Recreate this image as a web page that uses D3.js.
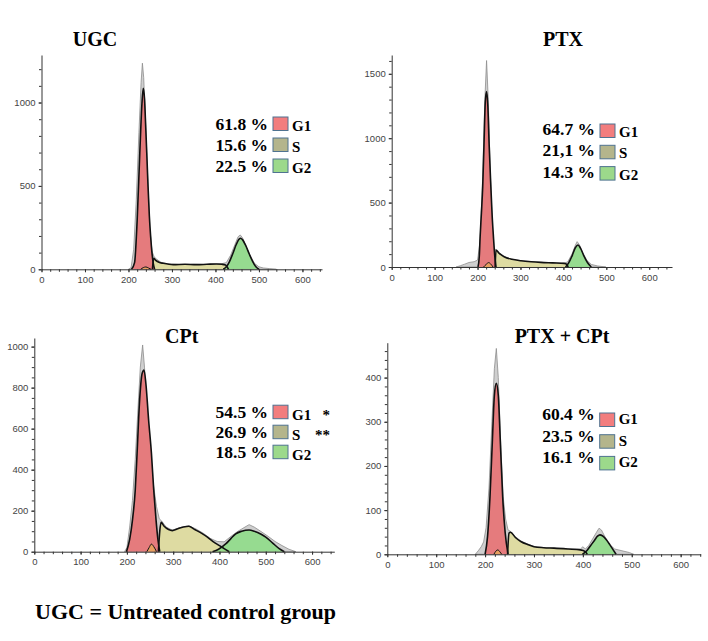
<!DOCTYPE html>
<html>
<head>
<meta charset="utf-8">
<script src="https://cdn.jsdelivr.net/npm/d3@7"></script>
<style>
  body { margin: 0; background: #fff; }
  .tick text { font-family: "Liberation Sans", Arial, sans-serif; font-size: 9.5px; fill: #444; }
  .axis path, .axis line { stroke: #333; }
  .serif { font-family: "Liberation Serif", "Times New Roman", serif; font-weight: bold; fill: #000; }
</style>
</head>
<body>
<svg width="708" height="641"></svg>
<script>
// DNA-Gehalt (Kanal) vs. Anzahl Zellen

// UGC
const ugcRaw = [[200,0],[206,10],[212,120],[218,420],[224,820],[229,1120],[232,1236],[235,1150],[239,900],[244,560],[249,250],[254,110],[259,75],[265,60],[275,42],[290,32],[320,28],[350,30],[380,28],[400,32],[415,34],[425,40],[435,85],[445,150],[452,195],[457,206],[462,190],[470,140],[480,80],[490,35],[500,15],[510,8],[525,4],[540,0]];
const ugcG1 = [[207,0],[214,40],[220,296],[226,696],[231,996],[234,1086],[237,1020],[239,896],[242,700],[245,496],[248,320],[251,196],[254,100],[257,36],[260,0]];
const ugcS = [[255,0],[258,66],[262,55],[270,42],[280,36],[303,28],[330,30],[356,28],[380,30],[402,32],[415,30],[423,26],[430,0]];
const ugcG2 = [[418,0],[425,15],[432,45],[440,95],[448,150],[455,182],[458,186],[462,178],[470,140],[478,90],[486,45],[493,15],[500,0]];
const ugcBump = [[228,0],[234,10],[240,14],[246,8],[252,0]];

// PTX
const ptxRaw = [[150,0],[160,10],[170,22],[180,35],[192,41],[200,54],[206,200],[212,700],[217,1300],[221,1603],[225,1300],[229,800],[234,350],[238,150],[242,135],[248,110],[262,80],[280,60],[301,49],[330,40],[347,36],[380,32],[402,30],[410,40],[420,100],[428,170],[432,197],[437,175],[445,110],[455,50],[465,20],[480,8],[499,0]];
const ptxG1 = [[201,0],[204,80],[206,236],[209,420],[212,624],[215,950],[218,1280],[221,1363],[224,1250],[227,950],[231,624],[234,400],[237,236],[240,90],[243,0]];
const ptxS = [[241,0],[243,132],[250,108],[262,80],[280,60],[301,49],[325,41],[347,36],[375,32],[402,28],[408,20],[411,0]];
const ptxG2 = [[405,0],[412,30],[420,85],[428,150],[434,171],[440,145],[448,85],[456,35],[465,0]];
const ptxBump = [[214,0],[220,20],[226,34],[231,22],[236,0]];

// CPt
const cptRaw = [[195,0],[200,20],[206,120],[212,250],[218,450],[224,700],[229,900],[234,1008],[238,900],[243,700],[248,520],[253,400],[258,317],[264,220],[270,160],[275,150],[285,120],[298,105],[315,118],[334,126],[350,110],[365,90],[380,65],[395,50],[410,48],[425,75],[440,100],[455,120],[464,132],[475,120],[490,98],[505,75],[520,50],[535,30],[550,12],[565,0]];
const cptG1 = [[199,0],[206,60],[212,154],[218,300],[222,480],[227,720],[233,870],[237,886],[241,820],[247,640],[253,480],[258,300],[263,154],[267,60],[271,0]];
const cptS = [[268,0],[271,100],[274,143],[280,125],[290,108],[298,103],[310,112],[322,120],[334,124],[345,110],[360,92],[374,71],[387,48],[399,31],[410,15],[421,0]];
const cptG2 = [[385,0],[398,12],[414,39],[425,65],[435,87],[448,100],[464,106],[475,100],[490,85],[500,71],[515,42],[529,15],[540,0]];
const cptBump = [[243,0],[248,20],[253,37],[258,25],[264,0]];

// PTX + CPt
const pcRaw = [[180,0],[186,8],[192,17],[197,28],[202,60],[208,150],[214,300],[219,420],[223,466],[227,400],[232,250],[237,130],[242,80],[247,55],[252,52],[260,42],[273,30],[290,22],[300,18],[320,15],[341,14],[370,12],[395,12],[400,17],[405,12],[412,20],[420,35],[428,50],[433,59],[438,55],[445,40],[455,22],[465,12],[480,8],[495,4],[504,0]];
const pcG1 = [[200,0],[205,40],[210,130],[215,260],[219,360],[223,387],[227,360],[231,260],[236,130],[241,50],[247,0]];
const pcS = [[246,0],[249,48],[252,50],[262,38],[273,29],[290,21],[300,17],[320,15],[341,14],[370,12],[395,10],[405,6],[409,0]];
const pcG2 = [[399,0],[408,8],[416,20],[424,32],[430,41],[435,44],[440,42],[448,33],[455,22],[462,10],[468,0]];
const pcBump = [[218,0],[222,7],[226,10],[230,6],[234,0]];

// Prozente je Phase (G1, S, G2)
const phases = ["G1", "S", "G2"];
const ugcPct = ["61.8 %", "15.6 %", "22.5 %"];
const ptxPct = ["64.7 %", "21,1 %", "14.3 %"];
const cptPct = ["54.5 %", "26.9 %", "18.5 %"];
const pcPct = ["60.4 %", "23.5 %", "16.1 %"];
const cptStars = ["*", "**", ""];

const titles = ["UGC", "PTX", "CPt", "PTX + CPt"];

const svg = d3.select("svg");

// Position der Panels (Pixel)
const panels = [
  { title: titles[0], raw: ugcRaw, g1: ugcG1, s: ugcS, g2: ugcG2, bump: ugcBump, pct: ugcPct, stars: null,
    x0: 41.5, x1: 322, xMax: 645, y0: 269.3, yTop: 55, yMax: 1285, yMajor: 500, yMinor: 100,
    tx: 95, ty: 45.5, lx: 268, ly: 130, ldy: 21, swDy: -13, labDy: 1 },
  { title: titles[1], raw: ptxRaw, g1: ptxG1, s: ptxS, g2: ptxG2, bump: ptxBump, pct: ptxPct, stars: null,
    x0: 391.7, x1: 672, xMax: 653, y0: 267, yTop: 55, yMax: 1646, yMajor: 500, yMinor: 100,
    tx: 563, ty: 46, lx: 595, ly: 135, ldy: 21.3, swDy: -11, labDy: 2 },
  { title: titles[2], raw: cptRaw, g1: cptG1, s: cptS, g2: cptG2, bump: cptBump, pct: cptPct, stars: cptStars,
    x0: 34.3, x1: 334.3, xMax: 648, y0: 551.7, yTop: 338, yMax: 1042, yMajor: 200, yMinor: 50,
    tx: 181.7, ty: 343.3, lx: 268, ly: 417.7, ldy: 20, swDy: -12.5, labDy: 2.3 },
  { title: titles[3], raw: pcRaw, g1: pcG1, s: pcS, g2: pcG2, bump: pcBump, pct: pcPct, stars: null,
    x0: 387.3, x1: 700.7, xMax: 641, y0: 554.3, yTop: 342.7, yMax: 479, yMajor: 100, yMinor: 20,
    tx: 562, ty: 343.3, lx: 594.7, ly: 420, ldy: 21.7, swDy: -7, labDy: 4 }
];

const fillG1 = "#e57b7d", fillS = "#dedb9f", fillG2 = "#8fdc88";
const swatchFill = ["#f27d7e", "#b4b58c", "#9cd98b"];

panels.forEach(drawPanel);

function drawPanel(p) {
  const x = d3.scaleLinear().domain([0, p.xMax]).range([p.x0, p.x1]);
  const y = d3.scaleLinear().domain([0, p.yMax]).range([p.y0, p.yTop]);
  const g = svg.append("g");

  const areaRaw = d3.area().x(d => x(d[0])).y0(y(0)).y1(d => y(d[1])).curve(d3.curveLinear);
  const areaFit = d3.area().x(d => x(d[0])).y0(y(0)).y1(d => y(d[1])).curve(d3.curveMonotoneX);
  const lineFit = d3.line().x(d => x(d[0])).y(d => y(d[1])).curve(d3.curveMonotoneX);

  // Rohdaten grau
  g.append("path").datum(p.raw).attr("d", areaRaw)
    .attr("fill", "#cfcfcf").attr("stroke", "#8d8d8d").attr("stroke-width", 0.8);

  // Phasen
  g.append("path").datum(p.s).attr("d", areaFit).attr("fill", fillS).attr("opacity", 0.95);
  g.append("path").datum(p.g2).attr("d", areaFit).attr("fill", fillG2).attr("opacity", 0.9);
  g.append("path").datum(p.g1).attr("d", areaFit).attr("fill", fillG1);
  g.append("path").datum(p.bump).attr("d", areaFit).attr("fill", "#e8a060");

  // schwarze Fit-Linien
  [p.s, p.g2, p.g1, p.bump].forEach((d, i) => {
    g.append("path").datum(d).attr("d", lineFit)
      .attr("fill", "none").attr("stroke", "#111")
      .attr("stroke-width", i == 3 ? 1 : 1.6);
  });

  // Achsen
  g.append("g").attr("class", "axis").attr("transform", `translate(0,${p.y0})`)
    .call(d3.axisBottom(x).tickValues(d3.range(0, p.xMax, 100)).tickFormat(d3.format("d"))
      .tickSizeInner(3).tickSizeOuter(0).tickPadding(4));
  g.append("g").attr("class", "axis").attr("transform", `translate(0,${p.y0})`)
    .call(d3.axisBottom(x).tickValues(d3.range(0, p.xMax, 20)).tickSize(2.5).tickFormat(""))
    .call(a => a.select(".domain").remove());

  g.append("g").attr("class", "axis").attr("transform", `translate(${p.x0},0)`)
    .call(d3.axisLeft(y).tickValues(d3.range(0, p.yMax, p.yMajor)).tickFormat(d3.format("d"))
      .tickSizeInner(3).tickSizeOuter(0).tickPadding(3));
  g.append("g").attr("class", "axis").attr("transform", `translate(${p.x0},0)`)
    .call(d3.axisLeft(y).tickValues(d3.range(0, p.yMax, p.yMinor)).tickSize(2.5).tickFormat(""))
    .call(a => a.select(".domain").remove());

  // Titel
  g.append("text").attr("class", "serif").attr("x", p.tx).attr("y", p.ty)
    .attr("text-anchor", "middle").attr("font-size", 20).text(p.title);

  // Legende
  phases.forEach((ph, i) => {
    const by = p.ly + i * p.ldy;
    g.append("text").attr("class", "serif").attr("x", p.lx).attr("y", by)
      .attr("text-anchor", "end").attr("font-size", 17.5).text(p.pct[i]);
    g.append("rect").attr("x", p.lx + 5).attr("y", by + p.swDy).attr("width", 15).attr("height", 13.5)
      .attr("fill", swatchFill[i]).attr("stroke", "#4f7391").attr("stroke-width", 1);
    g.append("text").attr("class", "serif").attr("x", p.lx + 24).attr("y", by + p.labDy)
      .attr("font-size", 15).text(ph);
    if (p.stars && p.stars[i]) {
      g.append("text").attr("class", "serif").attr("x", p.lx + 62).attr("y", by + p.labDy)
        .attr("text-anchor", "end").attr("font-size", 15).text(p.stars[i]);
    }
  });
}

svg.append("text").attr("class", "serif").attr("x", 35).attr("y", 619)
  .attr("font-size", 22).text("UGC = Untreated control group");
</script>
</body>
</html>
